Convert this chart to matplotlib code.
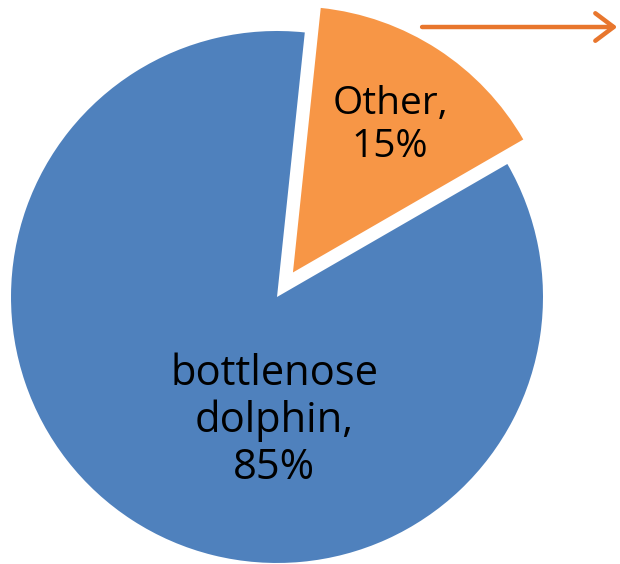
import matplotlib.pyplot as plt

labels = ["Other,\n15%", "bottlenose\ndolphin,\n85%"]
shares = [15, 85]
colors = ["#F79646", "#4F81BD"]

fig = plt.figure(figsize=(6.2, 5.64), dpi=100)
ax = fig.add_axes([0, 0, 1, 1])

wedges, texts = ax.pie(shares, colors=colors, startangle=84, counterclock=False,
                       explode=[0.11, 0], radius=1.0, labels=labels,
                       labeldistance=0.6,
                       textprops=dict(family="Open Sans", fontsize=30,
                                      color="black", ha="center", va="center",
                                      linespacing=1.15))
texts[0].set_fontsize(28)
# nudge label positions to where the original sits
texts[0].set_position((0.425, 0.645))
texts[1].set_position((-0.01, -0.465))

ax.set_xlim(-1.0414, 1.2895)
ax.set_ylim(-1.0038, 1.1165)
ax.set_aspect("equal")
ax.axis("off")

ax.annotate("", xy=(1.29, 1.015), xytext=(0.535, 1.015),
            arrowprops=dict(arrowstyle="->,head_length=0.6,head_width=0.45",
                            mutation_scale=22, color="#E8762D", lw=3.2))

fig.savefig("out.png", dpi=100)
